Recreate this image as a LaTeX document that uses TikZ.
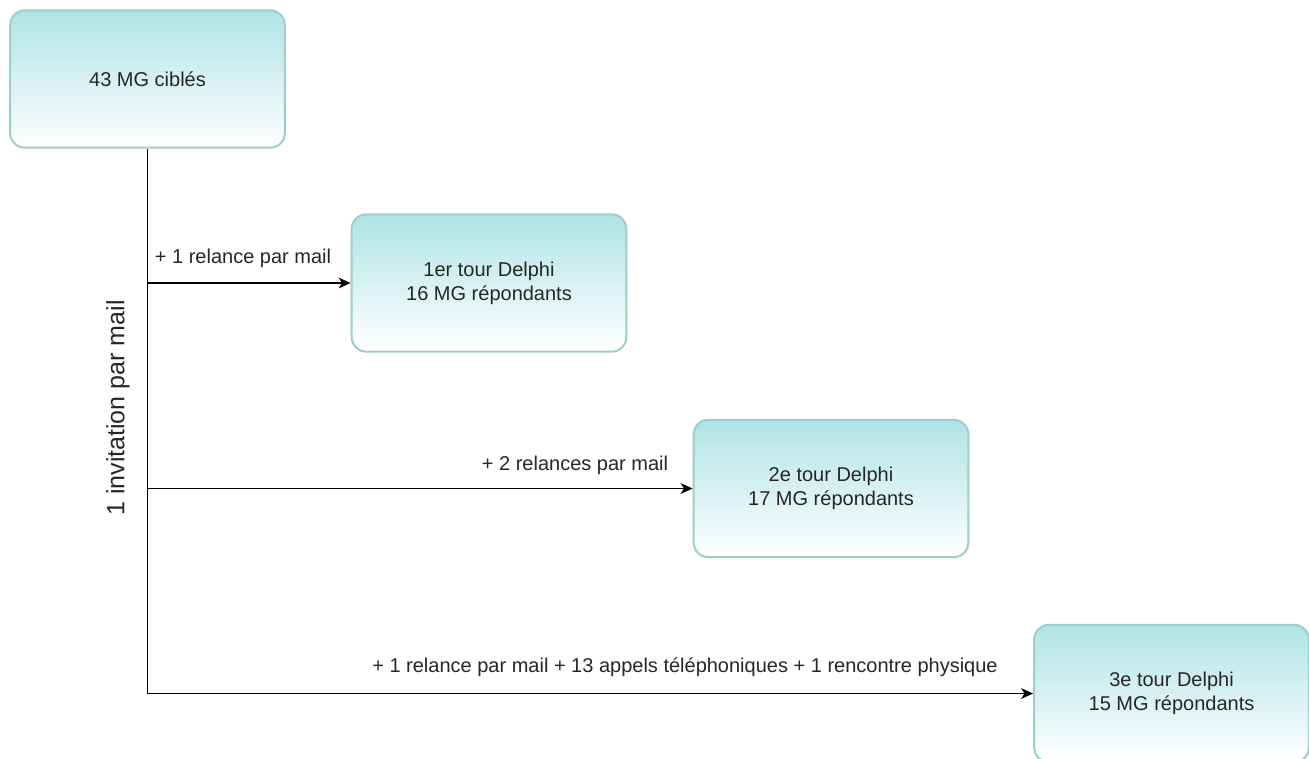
\documentclass[tikz,border=0pt]{standalone}
\usepackage{fontspec}
\setmainfont{Liberation Sans}
\usetikzlibrary{arrows.meta}
\definecolor{boxtop}{HTML}{B0E3E6}
\definecolor{boxline}{HTML}{9CCFC7}
\tikzset{
    tourbox/.style={rounded corners=11pt, draw=boxline, line width=1.5pt,
        top color=boxtop, bottom color=white, minimum width=206pt,
        minimum height=103pt, align=center, inner sep=0pt,
        text=black!85, font=\fontsize{15}{18}\selectfont},
    lien/.style={line width=1.2pt, -{Stealth[length=9pt,width=8pt,inset=2.5pt]}},
    legende/.style={inner sep=0pt, text=black!85, font=\fontsize{15}{18}\selectfont}
}
\begin{document}
\begin{tikzpicture}[x=0.75pt, y=-0.75pt]
    \useasboundingbox (0,0) rectangle (1309,758);
    \node[tourbox] (cibles) at (147.5, 79) {43 MG ciblés};
    \node[tourbox] (tour1) at (489, 283) {1er tour Delphi\\16 MG répondants};
    \node[tourbox] (tour2) at (831, 488.5) {2e tour Delphi\\17 MG répondants};
    \node[tourbox] (tour3) at (1171.5, 693.5) {3e tour Delphi\\15 MG répondants};
    % tronc et branches
    \draw[lien] (cibles.south) |- (tour3.west);
    \draw[lien] (cibles.south |- tour1.west) -- (tour1.west);
    \draw[lien] (cibles.south |- tour2.west) -- (tour2.west);
    \node[legende] (lab1) at (243, 258) {+ 1 relance par mail};
    \node[legende] (lab2) at (575, 465) {+ 2 relances par mail};
    \node[legende] (lab3) at (685, 667) {+ 1 relance par mail + 13 appels téléphoniques + 1 rencontre physique};
    \node[legende, rotate=90, font=\fontsize{18.75}{22.5}\selectfont] (invit) at (118, 408) {1 invitation par mail};
\end{tikzpicture}
\end{document}
